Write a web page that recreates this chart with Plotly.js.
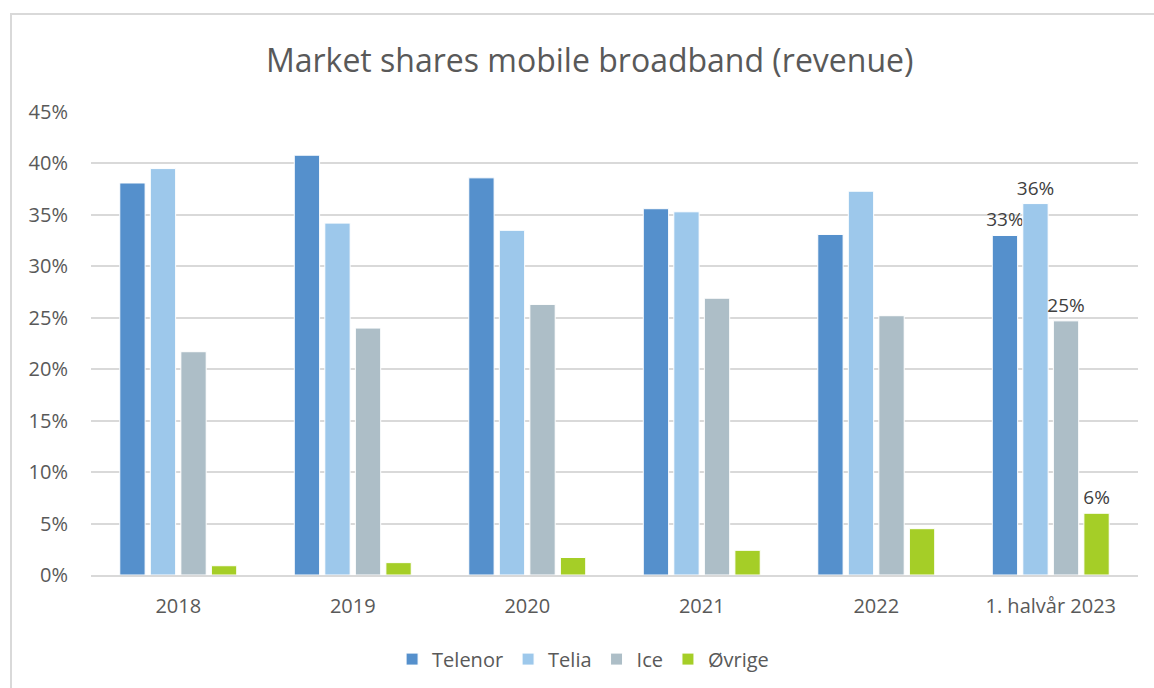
<!DOCTYPE html>
<html>
<head>
<meta charset="utf-8">
<script src="https://cdn.plot.ly/plotly-3.0.1.min.js"></script>
<style>
  html, body { margin: 0; padding: 0; background: #ffffff; }
  #frame { position: absolute; left: 10px; top: 13px; width: 1150px; height: 690px; border-left: 2px solid #d9d9d9; border-top: 2px solid #d9d9d9; box-sizing: border-box; }
  #chart { position: absolute; left: 0; top: 0; width: 1154px; height: 688px; }
</style>
</head>
<body>
<div id="frame"></div>
<div id="chart"></div>
<script>
const categories = ["2018", "2019", "2020", "2021", "2022", "1. halvår 2023"];
const telenor = [0.381, 0.408, 0.386, 0.356, 0.331, 0.330];
const telia   = [0.395, 0.342, 0.335, 0.353, 0.373, 0.361];
const ice     = [0.217, 0.240, 0.263, 0.269, 0.252, 0.247];
const ovrige  = [0.009, 0.012, 0.017, 0.024, 0.045, 0.060];
const seriesNames = ["Telenor", "Telia", "Ice", "Øvrige"];
const seriesColors = ["#5590CC", "#9DC8EB", "#ADBEC7", "#A5CE27"];
const seriesValues = [telenor, telia, ice, ovrige];

const lastIdx = categories.length - 1;
const traces = seriesValues.map((vals, i) => ({
  type: "bar",
  name: seriesNames[i],
  x: categories,
  y: vals,
  marker: { color: seriesColors[i], line: { color: "#ffffff", width: 1 } },
  text: vals.map((v, j) => j === lastIdx ? Math.round(v * 100) + "%" : ""),
  textposition: "outside",
  constraintext: "none",
  textfont: { family: "Open Sans, sans-serif", size: 19, color: "#404040" },
  cliponaxis: false,
  hoverinfo: "skip"
}));

const layout = {
  width: 1154,
  height: 688,
  paper_bgcolor: "rgba(0,0,0,0)",
  plot_bgcolor: "rgba(0,0,0,0)",
  font: { family: "Open Sans, sans-serif", color: "#595959" },
  title: { text: "Market shares mobile broadband (revenue)", x: 0.511, xanchor: "center", y: 0.912, yanchor: "middle", font: { size: 32, color: "#595959" } },
  margin: { l: 91, r: 16, t: 112, b: 113, autoexpand: false },
  barmode: "group",
  bargap: 0.3,
  bargroupgap: 0.17,
  xaxis: {
    type: "category",
    automargin: false,
    showgrid: false,
    showline: true,
    linecolor: "#d9d9d9",
    linewidth: 2,
    ticks: "",
    tickfont: { size: 20, color: "#595959" },
    ticklabelstandoff: 12
  },
  yaxis: {
    range: [0, 0.45],
    dtick: 0.05,
    tickformat: ".0%",
    automargin: false,
    showgrid: true,
    gridcolor: "#d9d9d9",
    gridwidth: 2,
    zeroline: false,
    showline: false,
    ticks: "",
    tickfont: { size: 20, color: "#595959" },
    ticklabelstandoff: 22
  },
  legend: {
    orientation: "h",
    x: 0.47, xanchor: "center",
    yref: "container",
    y: 0.042, yanchor: "middle",
    font: { size: 20, color: "#595959" },
    itemwidth: 30,
    traceorder: "normal"
  },
  showlegend: true
};

Plotly.newPlot("chart", traces, layout, { displayModeBar: false, staticPlot: true });
</script>
</body>
</html>
